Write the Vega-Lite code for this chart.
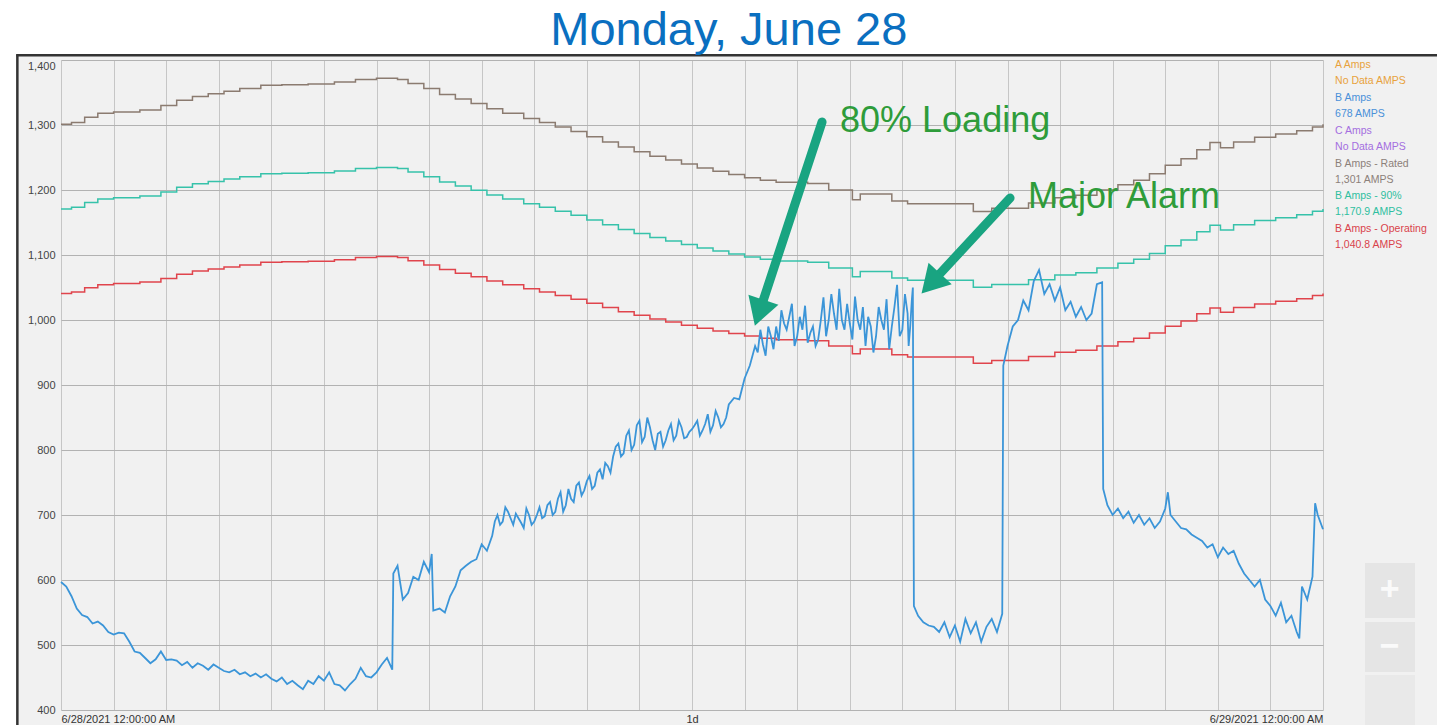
{
  "$schema": "https://vega.github.io/schema/vega-lite/v6.json",
  "width": 1262,
  "height": 650,
  "autosize": {"type": "none"},
  "padding": {"left": 61, "top": 60, "right": 114, "bottom": 15},
  "background": "#f1f1f1",
  "config": {"view": {"stroke": null, "fill": "#f1f1f1"}, "font": "Liberation Sans", "text": {"font": "Liberation Sans"}},
  "datasets": {
    "load": [
      {"t":0.0,"a":597},{"t":0.1,"a":590},{"t":0.2,"a":575},{"t":0.3,"a":556},{"t":0.4,"a":546},{"t":0.5,"a":543},{"t":0.6,"a":533},{"t":0.7,"a":536},{"t":0.8,"a":530},{"t":0.9,"a":520},
      {"t":1.0,"a":516},{"t":1.1,"a":519},{"t":1.2,"a":518},{"t":1.3,"a":505},{"t":1.4,"a":490},{"t":1.5,"a":488},{"t":1.6,"a":480},{"t":1.7,"a":472},{"t":1.8,"a":478},{"t":1.9,"a":490},
      {"t":2.0,"a":477},{"t":2.1,"a":478},{"t":2.2,"a":476},{"t":2.3,"a":469},{"t":2.4,"a":474},{"t":2.5,"a":465},{"t":2.6,"a":472},{"t":2.7,"a":468},{"t":2.8,"a":462},{"t":2.9,"a":470},
      {"t":3.0,"a":465},{"t":3.1,"a":460},{"t":3.2,"a":458},{"t":3.3,"a":462},{"t":3.4,"a":455},{"t":3.5,"a":458},{"t":3.6,"a":452},{"t":3.7,"a":456},{"t":3.8,"a":450},{"t":3.9,"a":455},
      {"t":4.0,"a":448},{"t":4.1,"a":444},{"t":4.2,"a":450},{"t":4.3,"a":440},{"t":4.4,"a":445},{"t":4.5,"a":438},{"t":4.6,"a":432},{"t":4.7,"a":445},{"t":4.8,"a":440},{"t":4.9,"a":452},
      {"t":5.0,"a":445},{"t":5.1,"a":458},{"t":5.2,"a":440},{"t":5.3,"a":438},{"t":5.4,"a":430},{"t":5.5,"a":440},{"t":5.6,"a":448},{"t":5.7,"a":465},{"t":5.8,"a":452},{"t":5.9,"a":450},
      {"t":6.0,"a":458},{"t":6.1,"a":470},{"t":6.2,"a":480},{"t":6.3,"a":462},{"t":6.32,"a":610},{"t":6.4,"a":622},{"t":6.5,"a":570},{"t":6.6,"a":580},{"t":6.7,"a":605},{"t":6.8,"a":600},{"t":6.9,"a":628},
      {"t":7.0,"a":612},{"t":7.05,"a":640},{"t":7.08,"a":553},{"t":7.2,"a":556},{"t":7.3,"a":550},{"t":7.4,"a":575},{"t":7.5,"a":590},{"t":7.6,"a":615},{"t":7.7,"a":622},{"t":7.8,"a":628},{"t":7.9,"a":632},
      {"t":8.0,"a":655},{"t":8.1,"a":645},{"t":8.2,"a":668},{"t":8.3,"a":700},{"t":8.4,"a":690},{"t":8.5,"a":705},{"t":8.6,"a":685},{"t":8.7,"a":695},{"t":8.8,"a":680},{"t":8.9,"a":700},
      {"t":9.0,"a":690},{"t":9.1,"a":712},{"t":9.2,"a":698},{"t":9.3,"a":720},{"t":9.4,"a":705},{"t":9.5,"a":735},{"t":9.6,"a":715},{"t":9.7,"a":725},{"t":9.8,"a":745},{"t":9.9,"a":730},
      {"t":10.0,"a":752},{"t":10.1,"a":740},{"t":10.2,"a":765},{"t":10.3,"a":755},{"t":10.4,"a":775},{"t":10.5,"a":790},{"t":10.6,"a":810},{"t":10.7,"a":795},{"t":10.8,"a":830},{"t":10.9,"a":808},
      {"t":11.0,"a":845},{"t":11.1,"a":820},{"t":11.2,"a":835},{"t":11.3,"a":800},{"t":11.4,"a":828},{"t":11.5,"a":815},{"t":11.6,"a":840},{"t":11.7,"a":822},{"t":11.8,"a":835},{"t":11.9,"a":820},
      {"t":12.0,"a":832},{"t":12.1,"a":845},{"t":12.2,"a":830},{"t":12.3,"a":855},{"t":12.4,"a":838},{"t":12.5,"a":850},{"t":12.6,"a":840},{"t":12.7,"a":870},{"t":12.8,"a":880},{"t":12.9,"a":878},
      {"t":13.0,"a":910},{"t":13.1,"a":930},{"t":13.2,"a":960},{"t":13.3,"a":985},{"t":13.4,"a":945},{"t":13.5,"a":975},{"t":13.6,"a":990},{"t":13.7,"a":1015},{"t":13.8,"a":985},{"t":13.9,"a":1025},
      {"t":14.0,"a":975},{"t":14.1,"a":985},{"t":14.2,"a":965},{"t":14.3,"a":990},{"t":14.4,"a":970},{"t":14.5,"a":1035},{"t":14.6,"a":1000},{"t":14.7,"a":1010},{"t":14.8,"a":1048},{"t":14.9,"a":985},
      {"t":15.0,"a":995},{"t":15.1,"a":1036},{"t":15.2,"a":985},{"t":15.3,"a":960},{"t":15.4,"a":990},{"t":15.5,"a":975},{"t":15.6,"a":1000},{"t":15.7,"a":1032},{"t":15.8,"a":990},{"t":15.9,"a":1054},
      {"t":16.0,"a":985},{"t":16.1,"a":1010},{"t":16.15,"a":990},{"t":16.2,"a":1050},{"t":16.22,"a":560},{"t":16.3,"a":545},{"t":16.4,"a":535},{"t":16.5,"a":530},{"t":16.6,"a":528},{"t":16.7,"a":520},{"t":16.8,"a":535},{"t":16.9,"a":512},
      {"t":17.0,"a":530},{"t":17.1,"a":505},{"t":17.2,"a":540},{"t":17.3,"a":518},{"t":17.4,"a":535},{"t":17.5,"a":505},{"t":17.6,"a":528},{"t":17.7,"a":540},{"t":17.8,"a":520},{"t":17.9,"a":548},
      {"t":17.92,"a":930},{"t":18.0,"a":960},{"t":18.1,"a":990},{"t":18.2,"a":1000},{"t":18.3,"a":1030},{"t":18.4,"a":1015},{"t":18.5,"a":1060},{"t":18.6,"a":1077},{"t":18.7,"a":1040},{"t":18.8,"a":1055},{"t":18.9,"a":1030},
      {"t":19.0,"a":1050},{"t":19.1,"a":1015},{"t":19.2,"a":1028},{"t":19.3,"a":1005},{"t":19.4,"a":1020},{"t":19.5,"a":1000},{"t":19.6,"a":1010},{"t":19.7,"a":1055},{"t":19.8,"a":1058},{"t":19.82,"a":740},{"t":19.9,"a":715},
      {"t":20.0,"a":700},{"t":20.1,"a":710},{"t":20.2,"a":695},{"t":20.3,"a":705},{"t":20.4,"a":688},{"t":20.5,"a":700},{"t":20.6,"a":685},{"t":20.7,"a":695},{"t":20.8,"a":680},{"t":20.9,"a":690},
      {"t":21.0,"a":710},{"t":21.05,"a":735},{"t":21.1,"a":700},{"t":21.2,"a":690},{"t":21.3,"a":680},{"t":21.4,"a":678},{"t":21.5,"a":670},{"t":21.6,"a":665},{"t":21.7,"a":660},{"t":21.8,"a":650},{"t":21.9,"a":655},
      {"t":22.0,"a":635},{"t":22.1,"a":650},{"t":22.2,"a":640},{"t":22.3,"a":645},{"t":22.4,"a":625},{"t":22.5,"a":610},{"t":22.6,"a":600},{"t":22.7,"a":590},{"t":22.8,"a":600},{"t":22.9,"a":570},
      {"t":23.0,"a":560},{"t":23.1,"a":545},{"t":23.2,"a":565},{"t":23.3,"a":535},{"t":23.4,"a":545},{"t":23.5,"a":520},{"t":23.55,"a":510},{"t":23.6,"a":590},{"t":23.7,"a":570},{"t":23.8,"a":605},{"t":23.85,"a":718},{"t":23.9,"a":700},{"t":24.0,"a":678},
      {"t":8.25,"a":690},{"t":8.35,"a":685},{"t":8.45,"a":712},{"t":8.55,"a":695},{"t":8.65,"a":702},{"t":8.75,"a":688},{"t":8.85,"a":710},{"t":8.95,"a":685},{"t":9.05,"a":700},{"t":9.15,"a":695},
      {"t":9.25,"a":715},{"t":9.35,"a":700},{"t":9.45,"a":725},{"t":9.55,"a":705},{"t":9.65,"a":740},{"t":9.75,"a":720},{"t":9.85,"a":750},{"t":9.95,"a":738},{"t":10.05,"a":760},{"t":10.15,"a":745},
      {"t":10.25,"a":770},{"t":10.35,"a":780},{"t":10.45,"a":765},{"t":10.55,"a":805},{"t":10.65,"a":790},{"t":10.75,"a":822},{"t":10.85,"a":800},{"t":10.95,"a":838},{"t":11.05,"a":812},{"t":11.15,"a":850},
      {"t":11.25,"a":815},{"t":11.35,"a":825},{"t":11.45,"a":805},{"t":11.55,"a":830},{"t":11.65,"a":815},{"t":11.75,"a":845},{"t":11.85,"a":818},{"t":11.95,"a":828},{"t":12.05,"a":838},{"t":12.15,"a":822},
      {"t":12.25,"a":840},{"t":12.35,"a":828},{"t":12.45,"a":860},{"t":12.55,"a":835},{"t":12.65,"a":850},
      {"t":13.25,"a":950},{"t":13.35,"a":962},{"t":13.45,"a":990},{"t":13.55,"a":955},{"t":13.65,"a":968},{"t":13.75,"a":995},{"t":13.85,"a":1005},{"t":13.95,"a":960},{"t":14.05,"a":1005},{"t":14.15,"a":1022},
      {"t":14.25,"a":980},{"t":14.35,"a":960},{"t":14.45,"a":1000},{"t":14.55,"a":975},{"t":14.65,"a":1040},{"t":14.75,"a":985},{"t":14.85,"a":1000},{"t":14.95,"a":1025},{"t":15.05,"a":970},{"t":15.15,"a":1000},
      {"t":15.25,"a":1020},{"t":15.35,"a":1005},{"t":15.45,"a":950},{"t":15.55,"a":1020},{"t":15.65,"a":985},{"t":15.75,"a":955},{"t":15.85,"a":1020},{"t":15.95,"a":975},{"t":16.05,"a":1040},{"t":16.12,"a":960},{"t":16.18,"a":1030}
    ],
    "limits": [
      {"t":0.0,"rated":1301,"p90":1170.9,"op":1040.8},
      {"t":0.2,"rated":1304,"p90":1173.6,"op":1043.2},
      {"t":0.45,"rated":1312,"p90":1180.8,"op":1049.6},
      {"t":0.7,"rated":1318,"p90":1186.2,"op":1054.4},
      {"t":1.0,"rated":1320,"p90":1188,"op":1056},
      {"t":1.5,"rated":1323,"p90":1190.7,"op":1058.4},
      {"t":1.9,"rated":1330,"p90":1197,"op":1064},
      {"t":2.2,"rated":1338,"p90":1204.2,"op":1070.4},
      {"t":2.5,"rated":1344,"p90":1209.6,"op":1075.2},
      {"t":2.8,"rated":1348,"p90":1213.2,"op":1078.4},
      {"t":3.1,"rated":1352,"p90":1216.8,"op":1081.6},
      {"t":3.4,"rated":1356,"p90":1220.4,"op":1084.8},
      {"t":3.8,"rated":1361,"p90":1224.9,"op":1088.8},
      {"t":4.2,"rated":1362,"p90":1225.8,"op":1089.6},
      {"t":4.7,"rated":1363,"p90":1226.7,"op":1090.4},
      {"t":5.2,"rated":1366,"p90":1229.4,"op":1092.8},
      {"t":5.6,"rated":1370,"p90":1233,"op":1096},
      {"t":6.0,"rated":1372,"p90":1234.8,"op":1097.6},
      {"t":6.4,"rated":1370,"p90":1233,"op":1096},
      {"t":6.6,"rated":1364,"p90":1227.6,"op":1091.2},
      {"t":6.9,"rated":1356,"p90":1220.4,"op":1084.8},
      {"t":7.2,"rated":1347,"p90":1212.3,"op":1077.6},
      {"t":7.5,"rated":1340,"p90":1206,"op":1072},
      {"t":7.8,"rated":1333,"p90":1199.7,"op":1066.4},
      {"t":8.1,"rated":1325,"p90":1192.5,"op":1060},
      {"t":8.4,"rated":1318,"p90":1186.2,"op":1054.4},
      {"t":8.8,"rated":1310,"p90":1179,"op":1048},
      {"t":9.1,"rated":1304,"p90":1173.6,"op":1043.2},
      {"t":9.4,"rated":1297,"p90":1167.3,"op":1037.6},
      {"t":9.7,"rated":1290,"p90":1161,"op":1032},
      {"t":10.0,"rated":1282,"p90":1153.8,"op":1025.6},
      {"t":10.3,"rated":1274,"p90":1146.6,"op":1019.2},
      {"t":10.6,"rated":1266,"p90":1139.4,"op":1012.8},
      {"t":10.9,"rated":1259,"p90":1133.1,"op":1007.2},
      {"t":11.2,"rated":1252,"p90":1126.8,"op":1001.6},
      {"t":11.5,"rated":1246,"p90":1121.4,"op":996.8},
      {"t":11.8,"rated":1240,"p90":1116,"op":992},
      {"t":12.1,"rated":1234,"p90":1110.6,"op":987.2},
      {"t":12.4,"rated":1229,"p90":1106.1,"op":983.2},
      {"t":12.7,"rated":1224,"p90":1101.6,"op":979.2},
      {"t":13.0,"rated":1219,"p90":1097.1,"op":975.2},
      {"t":13.3,"rated":1215,"p90":1093.5,"op":972},
      {"t":13.6,"rated":1212,"p90":1090.8,"op":969.6},
      {"t":14.2,"rated":1210,"p90":1089,"op":968},
      {"t":14.6,"rated":1200,"p90":1080,"op":960},
      {"t":15.05,"rated":1185,"p90":1066.5,"op":948},
      {"t":15.2,"rated":1194,"p90":1074.6,"op":955.2},
      {"t":15.8,"rated":1183,"p90":1064.7,"op":946.4},
      {"t":16.1,"rated":1179,"p90":1061.1,"op":943.2},
      {"t":17.35,"rated":1167,"p90":1050.3,"op":933.6},
      {"t":17.7,"rated":1172,"p90":1054.8,"op":937.6},
      {"t":18.4,"rated":1180,"p90":1062,"op":944},
      {"t":18.9,"rated":1188,"p90":1069.2,"op":950.4},
      {"t":19.3,"rated":1192,"p90":1072.8,"op":953.6},
      {"t":19.7,"rated":1200,"p90":1080,"op":960},
      {"t":20.1,"rated":1208,"p90":1087.2,"op":966.4},
      {"t":20.4,"rated":1215,"p90":1093.5,"op":972},
      {"t":20.7,"rated":1225,"p90":1102.5,"op":980},
      {"t":21.0,"rated":1238,"p90":1114.2,"op":990.4},
      {"t":21.3,"rated":1248,"p90":1123.2,"op":998.4},
      {"t":21.6,"rated":1262,"p90":1135.8,"op":1009.6},
      {"t":21.85,"rated":1273,"p90":1145.7,"op":1018.4},
      {"t":22.05,"rated":1265,"p90":1138.5,"op":1012},
      {"t":22.3,"rated":1274,"p90":1146.6,"op":1019.2},
      {"t":22.7,"rated":1281,"p90":1152.9,"op":1024.8},
      {"t":23.1,"rated":1286,"p90":1157.4,"op":1028.8},
      {"t":23.5,"rated":1291,"p90":1161.9,"op":1032.8},
      {"t":23.8,"rated":1297,"p90":1167.3,"op":1037.6},
      {"t":24.0,"rated":1301,"p90":1170.9,"op":1040.8}
    ],
    "legend": [
      {"series":"A Amps","lines":["A Amps","No Data AMPS"]},
      {"series":"B Amps","lines":["B Amps","678 AMPS"]},
      {"series":"C Amps","lines":["C Amps","No Data AMPS"]},
      {"series":"B Amps - Rated","lines":["B Amps - Rated","1,301 AMPS"]},
      {"series":"B Amps - 90%","lines":["B Amps - 90%","1,170.9 AMPS"]},
      {"series":"B Amps - Operating","lines":["B Amps - Operating","1,040.8 AMPS"]}
    ]
  },
  "resolve": {"scale": {"y": "independent"}},
  "layer": [
    {
      "layer": [
        {
          "data": {"values": [{}]},
          "mark": {"type": "rect", "color": "#ffffff"},
          "encoding": {
            "x": {"datum": -3, "type": "quantitative", "scale": {"domain": [0, 24]}},
            "x2": {"datum": 27},
            "y": {"datum": 1409, "type": "quantitative", "scale": {"domain": [400, 1400]}},
            "y2": {"datum": 1600}
          }
        },
        {
          "data": {"values": [{}]},
          "mark": {"type": "rect", "color": "#ffffff"},
          "encoding": {
            "x": {"datum": -3, "type": "quantitative", "scale": {"domain": [0, 24]}},
            "x2": {"datum": -0.85},
            "y": {"datum": 300, "type": "quantitative", "scale": {"domain": [400, 1400]}},
            "y2": {"datum": 1600}
          }
        },
        {
          "data": {"values": [{}]},
          "mark": {"type": "rule", "color": "#333333", "strokeWidth": 2.5},
          "encoding": {
            "x": {"datum": -0.85, "type": "quantitative", "scale": {"domain": [0, 24]}},
            "x2": {"datum": 27},
            "y": {"datum": 1407.3, "type": "quantitative", "scale": {"domain": [400, 1400]}}
          }
        },
        {
          "data": {"values": [{}]},
          "mark": {"type": "rule", "color": "#333333", "strokeWidth": 2.5},
          "encoding": {
            "x": {"datum": -0.83, "type": "quantitative", "scale": {"domain": [0, 24]}},
            "y": {"datum": 300, "type": "quantitative", "scale": {"domain": [400, 1400]}},
            "y2": {"datum": 1409}
          }
        },
        {
          "data": {"values": [{}]},
          "mark": {"type": "rect", "color": "#e5e5e5"},
          "encoding": {
            "x": {"datum": 24.8, "type": "quantitative", "scale": {"domain": [0, 24]}},
            "x2": {"datum": 25.75},
            "y": {"datum": 541.5, "type": "quantitative", "scale": {"domain": [400, 1400]}},
            "y2": {"datum": 626.2}
          }
        },
        {
          "data": {"values": [{}]},
          "mark": {"type": "rect", "color": "#e5e5e5"},
          "encoding": {
            "x": {"datum": 24.8, "type": "quantitative", "scale": {"domain": [0, 24]}},
            "x2": {"datum": 25.75},
            "y": {"datum": 458.5, "type": "quantitative", "scale": {"domain": [400, 1400]}},
            "y2": {"datum": 535.4}
          }
        },
        {
          "data": {"values": [{}]},
          "mark": {"type": "rect", "color": "#e9e9e9"},
          "encoding": {
            "x": {"datum": 24.8, "type": "quantitative", "scale": {"domain": [0, 24]}},
            "x2": {"datum": 25.75},
            "y": {"datum": 370, "type": "quantitative", "scale": {"domain": [400, 1400]}},
            "y2": {"datum": 453.8}
          }
        },
        {
          "data": {"values": [{"g": "+"}]},
          "mark": {"type": "text", "color": "#fafafa", "fontSize": 34, "fontWeight": "bold", "align": "center", "baseline": "middle"},
          "encoding": {
            "x": {"datum": 25.27, "type": "quantitative", "scale": {"domain": [0, 24]}},
            "y": {"datum": 584.6, "type": "quantitative", "scale": {"domain": [400, 1400]}},
            "text": {"field": "g"}
          }
        },
        {
          "data": {"values": [{"g": "−"}]},
          "mark": {"type": "text", "color": "#fafafa", "fontSize": 34, "fontWeight": "bold", "align": "center", "baseline": "middle"},
          "encoding": {
            "x": {"datum": 25.27, "type": "quantitative", "scale": {"domain": [0, 24]}},
            "y": {"datum": 496.9, "type": "quantitative", "scale": {"domain": [400, 1400]}},
            "text": {"field": "g"}
          }
        },
        {
          "data": {"name": "limits"},
          "mark": {"type": "line", "color": "#8b7b70", "strokeWidth": 1.5, "interpolate": "step-after"},
          "encoding": {
            "x": {"field": "t", "type": "quantitative", "title": null, "scale": {"domain": [0, 24]}},
            "y": {"field": "rated", "type": "quantitative", "title": null, "scale": {"domain": [400, 1400]}}
          }
        },
        {
          "data": {"name": "limits"},
          "mark": {"type": "line", "color": "#36c2aa", "strokeWidth": 1.5, "interpolate": "step-after"},
          "encoding": {
            "x": {"field": "t", "type": "quantitative", "title": null, "scale": {"domain": [0, 24]}},
            "y": {"field": "p90", "type": "quantitative", "title": null, "scale": {"domain": [400, 1400]}}
          }
        },
        {
          "data": {"name": "limits"},
          "mark": {"type": "line", "color": "#e0444c", "strokeWidth": 1.5, "interpolate": "step-after"},
          "encoding": {
            "x": {"field": "t", "type": "quantitative", "title": null, "scale": {"domain": [0, 24]}},
            "y": {"field": "op", "type": "quantitative", "title": null, "scale": {"domain": [400, 1400]}}
          }
        },
        {
          "data": {"name": "load"},
          "mark": {"type": "line", "color": "#3b95d8", "strokeWidth": 1.8},
          "encoding": {
            "x": {
              "field": "t", "type": "quantitative", "title": null,
              "scale": {"domain": [0, 24], "nice": false},
              "axis": {
                "values": [0,1,2,3,4,5,6,7,8,9,10,11,12,13,14,15,16,17,18,19,20,21,22,23,24],
                "domain": false, "ticks": false, "grid": true, "gridColor": "#c6c6c6", "gridWidth": 1,
                "labelExpr": "datum.value == 0 ? '6/28/2021 12:00:00 AM' : datum.value == 12 ? '1d' : datum.value == 24 ? '6/29/2021 12:00:00 AM' : ''",
                "labelFlush": true, "labelOverlap": false, "labelBound": false,
                "labelFontSize": 11, "labelColor": "#333333", "labelPadding": 3, "labelFont": "Liberation Sans"
              }
            },
            "y": {
              "field": "a", "type": "quantitative", "title": null,
              "scale": {"domain": [400, 1400], "nice": false, "zero": false},
              "axis": {
                "values": [400,500,600,700,800,900,1000,1100,1200,1300,1400],
                "format": ",d", "domain": false, "ticks": false, "grid": true, "gridColor": "#b2b2b2", "gridWidth": 1,
                "labelFontSize": 11, "labelColor": "#444444", "labelPadding": 6, "labelFont": "Liberation Sans",
                "labelBaseline": {"condition": {"test": "datum.value == 1400", "value": "top"}, "value": "middle"}
              }
            }
          }
        },
        {
          "data": {"values": [{}]},
          "mark": {"type": "rule", "color": "#19a481", "strokeWidth": 9, "strokeCap": "round"},
          "encoding": {
            "x": {"datum": 14.473, "type": "quantitative", "scale": {"domain": [0, 24]}},
            "x2": {"datum": 13.277},
            "y": {"datum": 1304.6, "type": "quantitative", "scale": {"domain": [400, 1400]}},
            "y2": {"datum": 1011.2}
          }
        },
        {
          "data": {"values": [{}]},
          "mark": {"type": "point", "shape": "triangle-up", "filled": true, "color": "#19a481", "opacity": 1, "size": 1000, "angle": 198.2},
          "encoding": {
            "x": {"datum": 13.277, "type": "quantitative", "scale": {"domain": [0, 24]}},
            "y": {"datum": 1011.2, "type": "quantitative", "scale": {"domain": [400, 1400]}}
          }
        },
        {
          "data": {"values": [{}]},
          "mark": {"type": "rule", "color": "#19a481", "strokeWidth": 9, "strokeCap": "round"},
          "encoding": {
            "x": {"datum": 18.049, "type": "quantitative", "scale": {"domain": [0, 24]}},
            "x2": {"datum": 16.542},
            "y": {"datum": 1187.7, "type": "quantitative", "scale": {"domain": [400, 1400]}},
            "y2": {"datum": 1056.2}
          }
        },
        {
          "data": {"values": [{}]},
          "mark": {"type": "point", "shape": "triangle-up", "filled": true, "color": "#19a481", "opacity": 1, "size": 1000, "angle": 222.8},
          "encoding": {
            "x": {"datum": 16.542, "type": "quantitative", "scale": {"domain": [0, 24]}},
            "y": {"datum": 1056.2, "type": "quantitative", "scale": {"domain": [400, 1400]}}
          }
        },
        {
          "data": {"values": [{"label": "80% Loading"}]},
          "mark": {"type": "text", "color": "#2e9c3a", "fontSize": 36, "align": "left", "baseline": "alphabetic"},
          "encoding": {
            "x": {"datum": 14.815, "type": "quantitative", "scale": {"domain": [0, 24]}},
            "y": {"datum": 1289.2, "type": "quantitative", "scale": {"domain": [400, 1400]}},
            "text": {"field": "label"}
          }
        },
        {
          "data": {"values": [{"label": "Major Alarm"}]},
          "mark": {"type": "text", "color": "#2e9c3a", "fontSize": 36, "align": "left", "baseline": "alphabetic"},
          "encoding": {
            "x": {"datum": 18.39, "type": "quantitative", "scale": {"domain": [0, 24]}},
            "y": {"datum": 1172.3, "type": "quantitative", "scale": {"domain": [400, 1400]}},
            "text": {"field": "label"}
          }
        },
        {
          "data": {"values": [{"label": "Monday, June 28"}]},
          "mark": {"type": "text", "color": "#0a6fc0", "fontSize": 47, "align": "center", "baseline": "alphabetic"},
          "encoding": {
            "x": {"datum": 12.7, "type": "quantitative", "scale": {"domain": [0, 24]}},
            "y": {"datum": 1423.1, "type": "quantitative", "scale": {"domain": [400, 1400]}},
            "text": {"field": "label"}
          }
        }
      ]
    },
    {
      "data": {"name": "legend"},
      "mark": {"type": "text", "align": "left", "baseline": "top", "fontSize": 10.5, "lineHeight": 16},
      "encoding": {
        "x": {"datum": 24.23, "type": "quantitative", "scale": {"domain": [0, 24]}},
        "y": {
          "field": "series", "type": "nominal", "axis": null,
          "scale": {"type": "point", "domain": ["A Amps", "B Amps", "C Amps", "B Amps - Rated", "B Amps - 90%", "B Amps - Operating", "_7", "_8", "_9", "_10", "_11", "_12", "_13", "_14", "_15", "_16", "_17", "_18", "_19"], "padding": 0.89, "align": 0}
        },
        "color": {
          "field": "series", "type": "nominal", "legend": null,
          "scale": {"domain": ["A Amps", "B Amps", "C Amps", "B Amps - Rated", "B Amps - 90%", "B Amps - Operating"], "range": ["#e8a23c", "#4a90d9", "#a46ee0", "#8c8079", "#2fbfa0", "#d9434b"]}
        },
        "text": {"field": "lines"}
      }
    }
  ]
}
